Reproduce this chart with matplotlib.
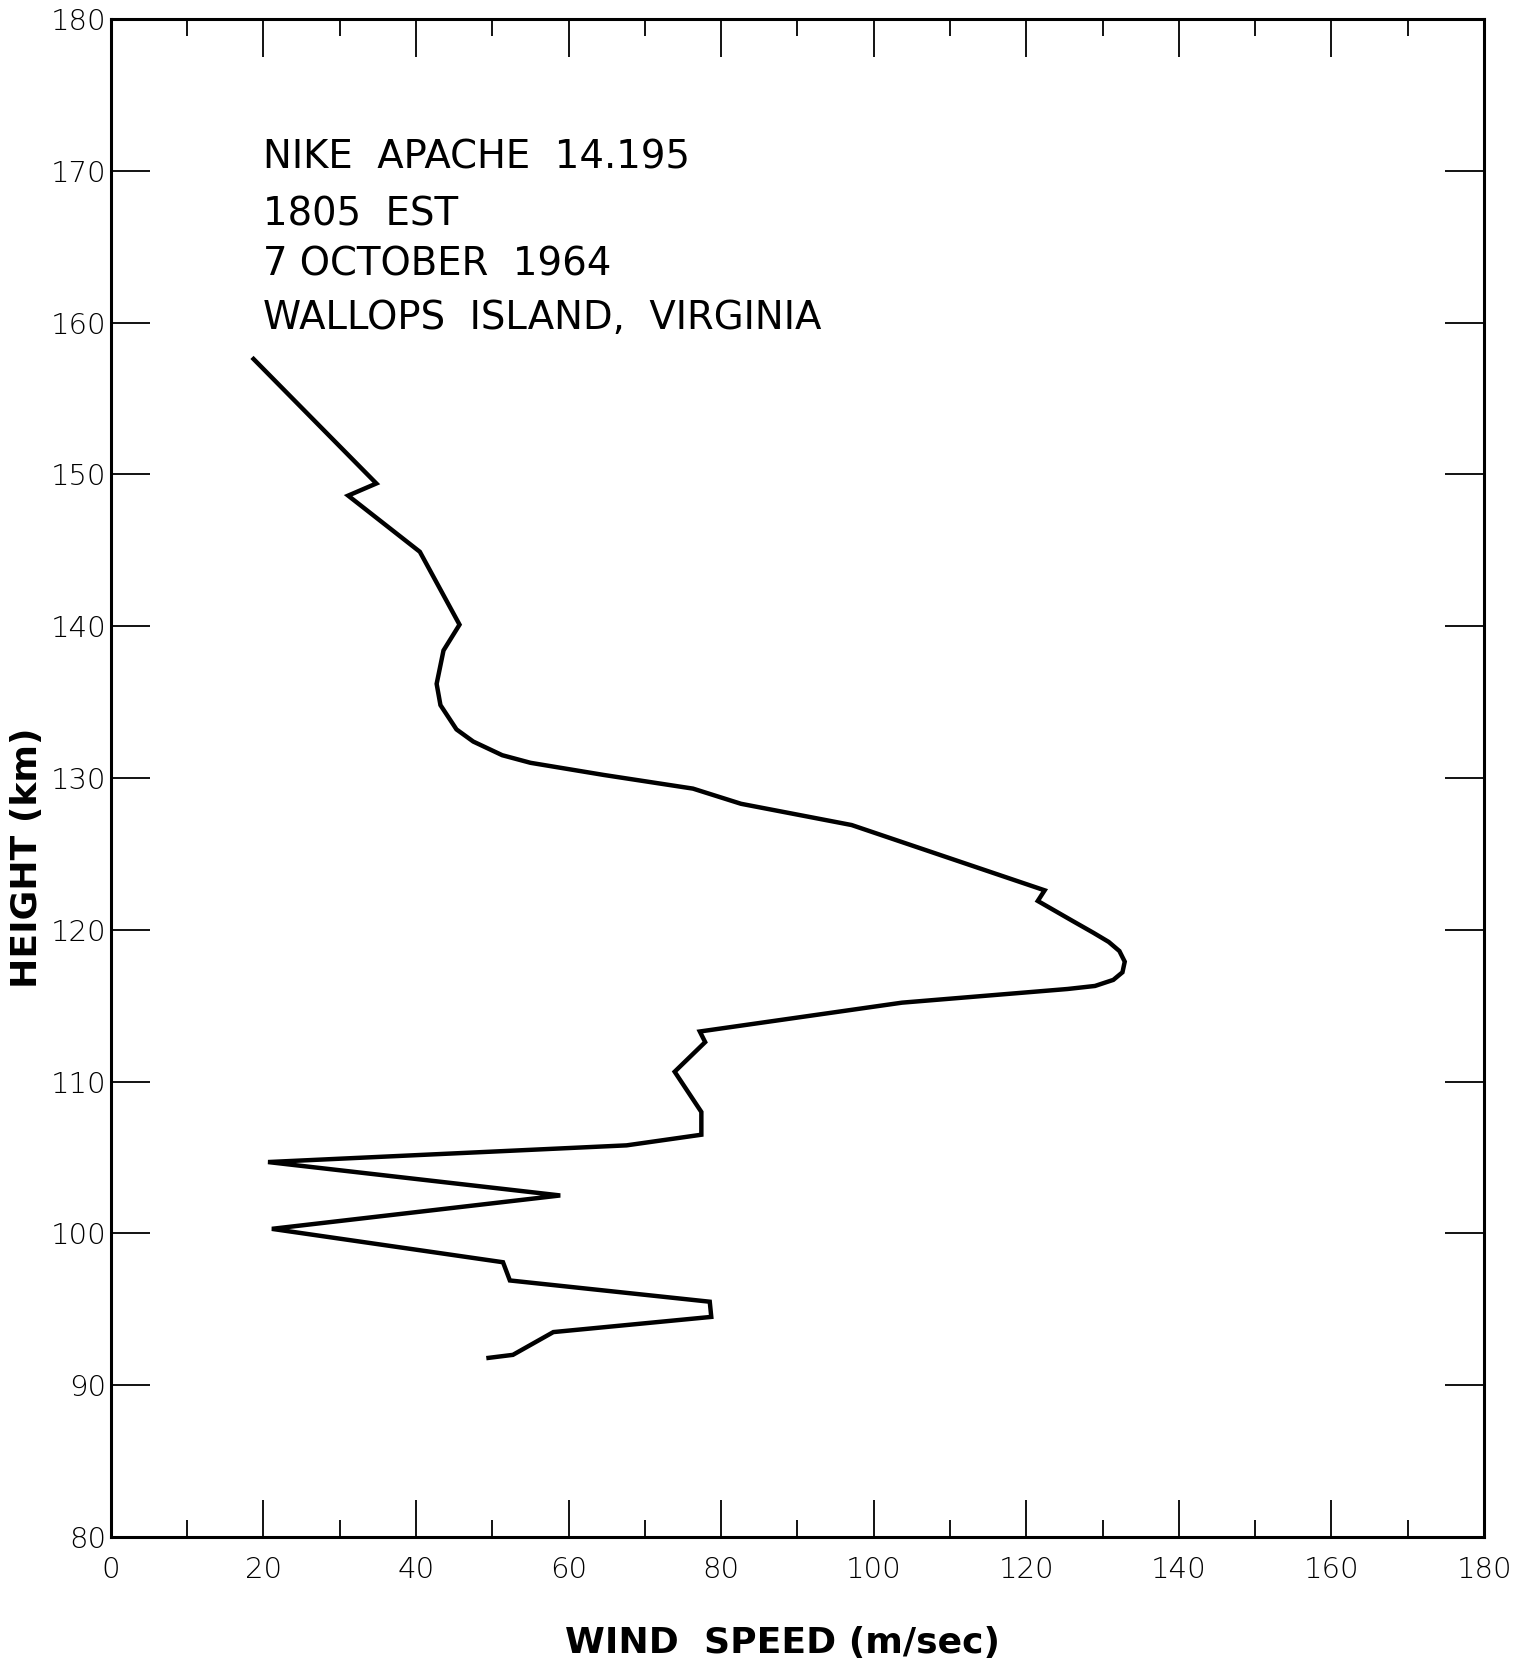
#!/usr/bin/env python3
"""
Nike Apache 14.195 wind speed profile (Wallops Island, 7 Oct 1964)
"""

import matplotlib
matplotlib.use('Agg')
import matplotlib.pyplot as plt
from matplotlib.ticker import MultipleLocator

plt.rcParams['font.family'] = ['DejaVu Sans']

# wind speed (m/sec), top to bottom
wind_speed = [18.7, 34.8, 31.1, 40.5, 45.7, 43.6, 42.7, 43.2, 45.3, 47.5,
              51.3, 55.0, 64.6, 76.3, 82.6, 97.1, 122.4, 121.5, 126.0, 128.8,
              130.8, 132.2, 132.9, 132.6, 131.4, 129.0, 125.4, 103.7, 77.2,
              77.9, 73.9, 77.4, 77.4, 67.6, 20.6, 58.9, 21.1, 51.4, 52.3,
              78.5, 78.7, 58.0, 52.7, 49.5]
# height (km)
height = [157.6, 149.4, 148.6, 144.9, 140.1, 138.4, 136.2, 134.8, 133.2, 132.4,
          131.5, 131.0, 130.2, 129.3, 128.3, 126.9, 122.6, 121.9, 120.6, 119.8,
          119.2, 118.6, 117.9, 117.2, 116.7, 116.3, 116.1, 115.2, 113.3,
          112.6, 110.65, 108.0, 106.5, 105.8, 104.7, 102.5, 100.3, 98.1, 96.9,
          95.5, 94.5, 93.5, 92.0, 91.8]

info_lines = ['NIKE  APACHE  14.195', '1805  EST', '7 OCTOBER  1964',
              'WALLOPS  ISLAND,  VIRGINIA']
info_heights = [170.9, 167.1, 163.8, 160.3]

fig = plt.figure(figsize=(15.19, 16.62), dpi=100)
ax = fig.add_axes([0.073, 0.0752, 0.904, 0.9134])

ax.plot(wind_speed, height, color='black', lw=3.2, solid_joinstyle='miter')

ax.set_xlim(0, 180)
ax.set_ylim(80, 180)

ax.xaxis.set_major_locator(MultipleLocator(20))
ax.xaxis.set_minor_locator(MultipleLocator(10))
ax.yaxis.set_major_locator(MultipleLocator(10))

ax.tick_params(axis='x', which='major', direction='in', length=27, width=1.3,
               top=True, bottom=True, pad=14, labelsize=21)
ax.tick_params(axis='x', which='minor', direction='in', length=12, width=1.3,
               top=True, bottom=True)
ax.tick_params(axis='y', which='major', direction='in', length=28, width=1.3,
               left=True, right=True, pad=3, labelsize=21)

for lab in ax.get_xticklabels() + ax.get_yticklabels():
    lab.set_fontweight('light')

for sp in ax.spines.values():
    sp.set_linewidth(2.2)

for txt, h in zip(info_lines, info_heights):
    ax.text(20, h, txt, fontsize=27.8, va='center', ha='left')

# axis titles placed by hand to sit where the original lettering is
fig.text(0.515, 0.0115, 'WIND  SPEED (m/sec)', fontsize=26, fontweight='bold',
         ha='center', va='center')
fig.text(0.0175, 0.484, 'HEIGHT (km)', fontsize=26, fontweight='bold',
         rotation=90, ha='center', va='center')

plt.savefig('out.png', dpi=100)
plt.close()
